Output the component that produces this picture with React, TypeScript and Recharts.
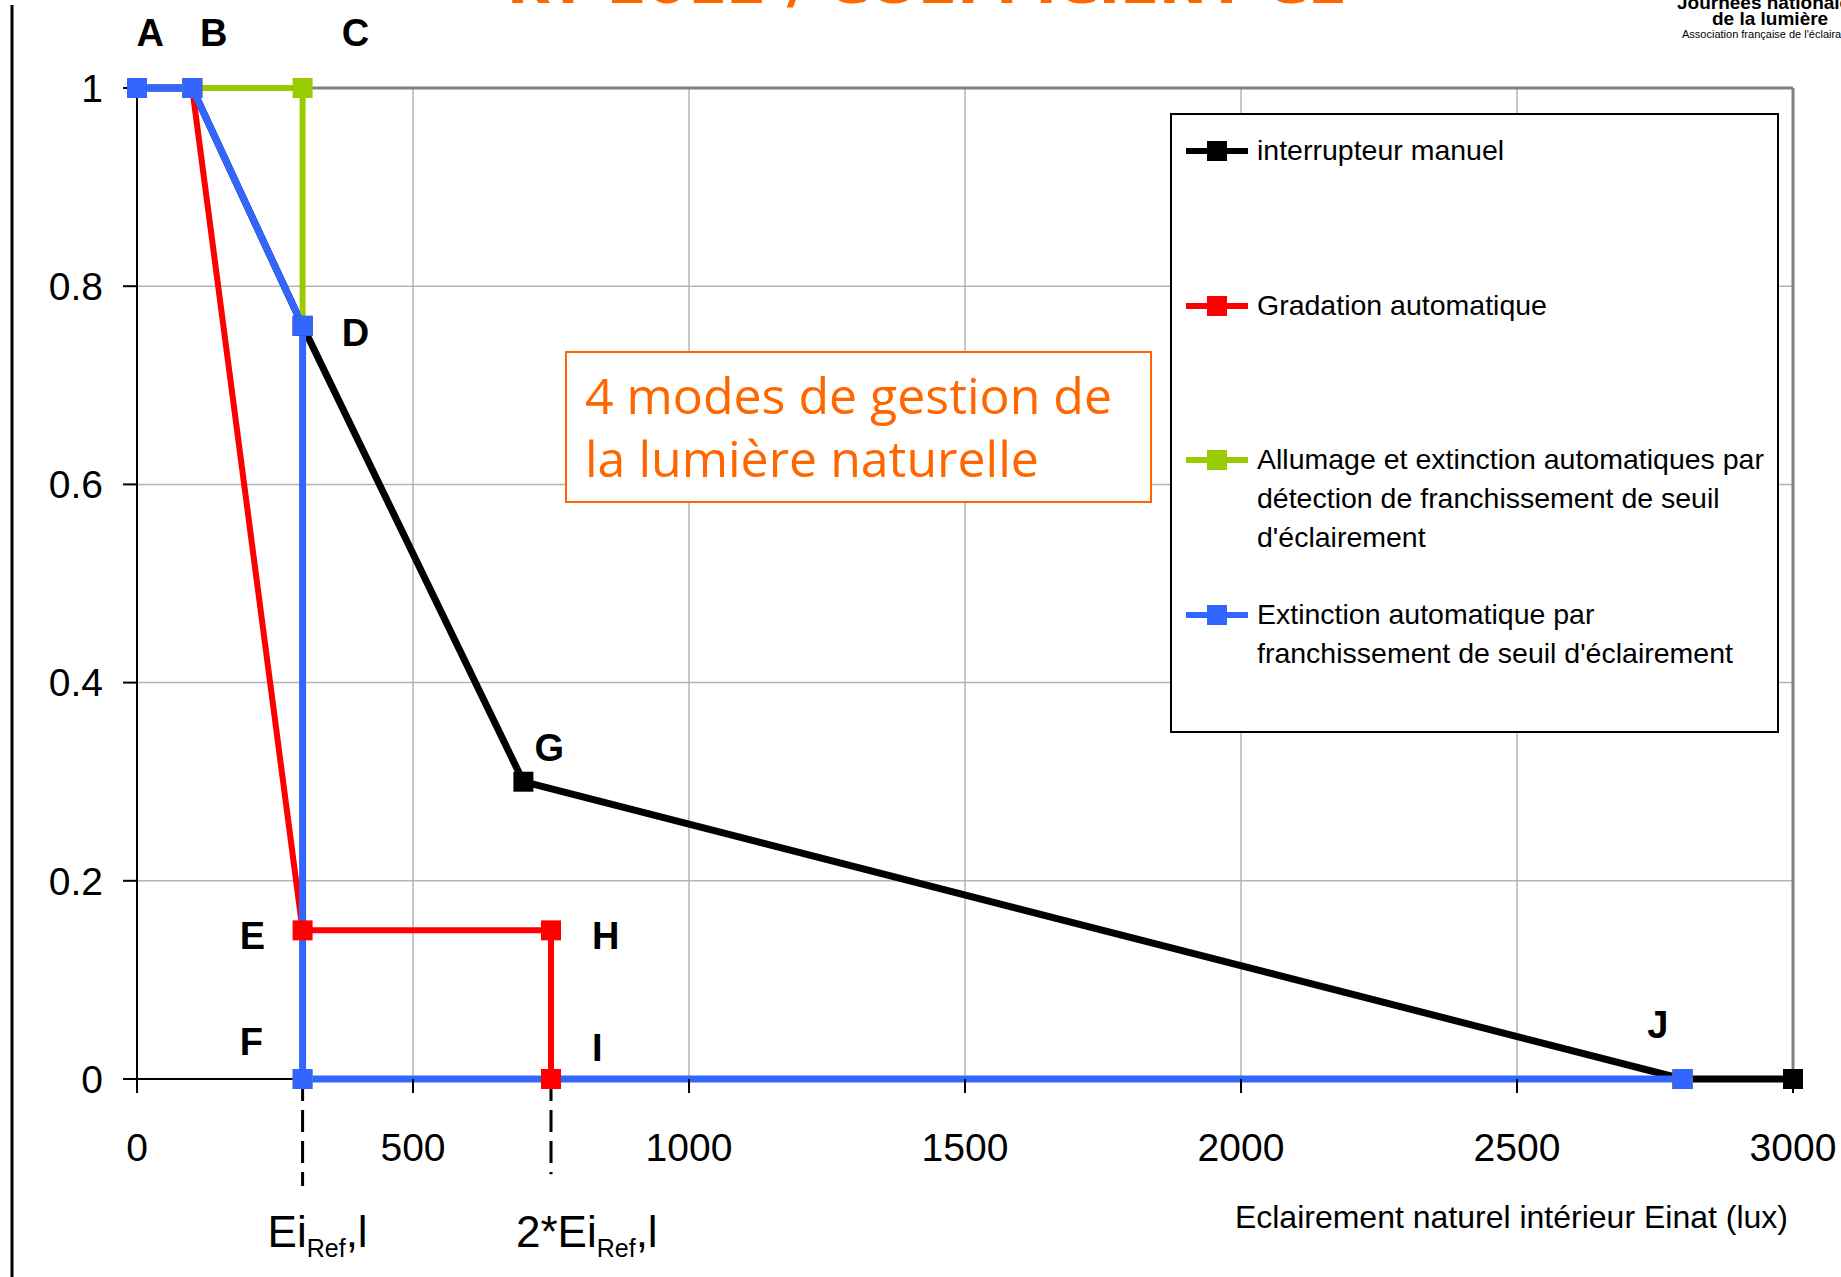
import React from "react";
import {
  LineChart,
  Line,
  XAxis,
  YAxis,
  CartesianGrid,
  ReferenceLine,
  ReferenceDot,
  Legend,
} from "recharts";

// axes
const X_TICKS = [0, 500, 1000, 1500, 2000, 2500, 3000];
const Y_TICKS = [0, 0.2, 0.4, 0.6, 0.8, 1];

// series (Einat in lux, coefficient)
const MANUEL_X = [0, 100, 300, 700, 2800, 3000];
const MANUEL_Y = [1, 1, 0.76, 0.3, 0, 0];
const GRADATION_X = [0, 100, 300, 750, 750, 2800];
const GRADATION_Y = [1, 1, 0.15, 0.15, 0, 0];
const ALLUMAGE_X = [0, 100, 300, 300, 2800];
const ALLUMAGE_Y = [1, 1, 1, 0, 0];
const EXTINCTION_X = [0, 100, 300, 300, 2800];
const EXTINCTION_Y = [1, 1, 0.76, 0, 0];

// point letters, placed in data units
const POINT_NAMES = ["A", "B", "C", "D", "E", "F", "G", "H", "I", "J"];
const POINT_X = [24, 139, 396, 396, 209, 207, 747, 849, 834, 2755];
const POINT_Y = [1.057, 1.057, 1.057, 0.754, 0.145, 0.038, 0.335, 0.145, 0.032, 0.056];

// thresholds under the x axis
const THRESHOLD_X = [300, 750];
const THRESHOLD_END = [-0.108, -0.096];
const THRESHOLD_MAIN = ["Ei", "2*Ei"];
const THRESHOLD_SUB = ["Ref", "Ref"];
const THRESHOLD_TAIL = [",l", ",l"];
const THRESHOLD_LABEL_Y = -0.17;

const FONT = "'Liberation Sans', Arial, sans-serif";

const toPoints = (xs: number[], ys: number[]) => xs.map((x, i) => ({ x, y: ys[i] }));

const SERIES = [
  { key: "manuel", color: "#000000", width: 7, points: toPoints(MANUEL_X, MANUEL_Y), lines: ["interrupteur manuel"] },
  { key: "gradation", color: "#ff0000", width: 6, points: toPoints(GRADATION_X, GRADATION_Y), lines: ["Gradation automatique"] },
  {
    key: "allumage",
    color: "#99cc00",
    width: 6,
    points: toPoints(ALLUMAGE_X, ALLUMAGE_Y),
    lines: ["Allumage et extinction automatiques par", "détection de franchissement de seuil", "d'éclairement"],
  },
  {
    key: "extinction",
    color: "#3366ff",
    width: 7,
    points: toPoints(EXTINCTION_X, EXTINCTION_Y),
    lines: ["Extinction automatique par", "franchissement de seuil d'éclairement"],
  },
];

const squareDot = (color: string, key: string) => (props: any) => {
  const { cx, cy, index } = props;
  if (cx == null || cy == null) return <g key={`${key}-${index}`} />;
  return <rect key={`${key}-${index}`} x={cx - 10} y={cy - 10} width={20} height={20} fill={color} />;
};

const renderLegend = () => (
  <div
    style={{
      width: 609,
      height: 620,
      border: "2px solid #000",
      boxSizing: "border-box",
      background: "#fff",
      position: "relative",
      fontFamily: FONT,
      fontSize: 28.5,
      color: "#000",
    }}
  >
    {SERIES.map((s, i) => {
      const top = 16 + i * 154.5;
      return (
        <div key={s.key}>
          <svg style={{ position: "absolute", left: 14, top: top + 9 }} width={64} height={22}>
            <line x1={0} y1={11} x2={62} y2={11} stroke={s.color} strokeWidth={6} />
            <rect x={21} y={1} width={20} height={20} fill={s.color} />
          </svg>
          <div style={{ position: "absolute", left: 85, top, lineHeight: "39px", whiteSpace: "nowrap" }}>
            {s.lines.map((l) => (
              <div key={l}>{l}</div>
            ))}
          </div>
        </div>
      );
    })}
  </div>
);

export default function App() {
  return (
    <div
      style={{
        position: "absolute",
        left: 0,
        top: 0,
        width: 1841,
        height: 1277,
        background: "#fff",
        overflow: "hidden",
      }}
    >
      <LineChart width={1841} height={1277} margin={{ top: 88, right: 48, left: 0, bottom: 98 }}>
        <CartesianGrid stroke="#b3b3b3" strokeWidth={1.5} />
        <XAxis
          dataKey="x"
          type="number"
          domain={[0, 3000]}
          ticks={X_TICKS}
          interval={0}
          height={100}
          tickSize={14}
          tickMargin={40}
          axisLine={false}
          tickLine={{ stroke: "#000", strokeWidth: 2 }}
          tick={{ fill: "#000", fontSize: 39, fontFamily: FONT }}
        />
        <YAxis
          dataKey="y"
          type="number"
          domain={[0, 1]}
          ticks={Y_TICKS}
          interval={0}
          width={137}
          tickSize={14}
          tickMargin={20}
          axisLine={false}
          tickLine={{ stroke: "#000", strokeWidth: 2 }}
          tick={{ fill: "#000", fontSize: 39, fontFamily: FONT }}
        />
        <ReferenceLine y={1} stroke="#808080" strokeWidth={3} />
        <ReferenceLine x={3000} stroke="#808080" strokeWidth={3} />
        <ReferenceLine y={0} stroke="#000" strokeWidth={2} />
        <ReferenceLine x={0} stroke="#000" strokeWidth={2} />
        {THRESHOLD_X.map((x, i) => (
          <ReferenceLine
            key={`th-${x}`}
            segment={[
              { x, y: 0 },
              { x, y: THRESHOLD_END[i] },
            ]}
            ifOverflow="visible"
            stroke="#000"
            strokeWidth={3}
            strokeDasharray="22 9"
          />
        ))}
        {THRESHOLD_X.map((x, i) => (
          <ReferenceDot
            key={`thl-${x}`}
            x={x}
            y={THRESHOLD_LABEL_Y}
            r={0}
            ifOverflow="visible"
            shape={(p: any) => (
              <text x={p.cx - 35} y={p.cy} fontFamily={FONT} fontSize={44} fill="#000">
                {THRESHOLD_MAIN[i]}
                <tspan fontSize={25} dy={10}>
                  {THRESHOLD_SUB[i]}
                </tspan>
                <tspan dy={-10}>{THRESHOLD_TAIL[i]}</tspan>
              </text>
            )}
          />
        ))}
        {SERIES.map((s) => (
          <Line
            key={`line-${s.key}`}
            data={s.points}
            dataKey="y"
            type="linear"
            stroke={s.color}
            strokeWidth={s.width}
            strokeLinejoin="round"
            dot={false}
            activeDot={false}
            legendType="none"
            isAnimationActive={false}
          />
        ))}
        {SERIES.map((s) => (
          <Line
            key={`dots-${s.key}`}
            data={s.points}
            dataKey="y"
            type="linear"
            stroke="none"
            dot={squareDot(s.color, s.key)}
            activeDot={false}
            legendType="none"
            isAnimationActive={false}
          />
        ))}
        {POINT_NAMES.map((name, i) => (
          <ReferenceDot
            key={`pt-${name}`}
            x={POINT_X[i]}
            y={POINT_Y[i]}
            r={0}
            ifOverflow="visible"
            shape={(p: any) => (
              <text
                x={p.cx}
                y={p.cy + 14}
                textAnchor="middle"
                fontFamily={FONT}
                fontWeight="bold"
                fontSize={38}
                fill="#000"
              >
                {name}
              </text>
            )}
          />
        ))}
        <Legend
          layout="vertical"
          align="center"
          verticalAlign="middle"
          content={renderLegend}
          wrapperStyle={{ position: "absolute", left: 1170, top: 113, width: 609, height: 620 }}
        />
      </LineChart>

      <svg
        width={1841}
        height={1277}
        style={{ position: "absolute", left: 0, top: 0, pointerEvents: "none" }}
      >
        <line x1={12} y1={5} x2={12} y2={1277} stroke="#000" strokeWidth={3} />
        <text
          x={507}
          y={3}
          fontFamily="'DejaVu Sans', Verdana, sans-serif"
          fontWeight="bold"
          fontSize={48}
          fill="#ff6600"
          textLength={840}
          lengthAdjust="spacingAndGlyphs"
        >
          RT 2012 / COEFFICIENT CE
        </text>
        <text x={1677} y={9} fontFamily={FONT} fontWeight="bold" fontSize={19} fill="#000">
          Journées nationales
        </text>
        <text x={1712} y={25} fontFamily={FONT} fontWeight="bold" fontSize={19} fill="#000">
          de la lumière
        </text>
        <text x={1682} y={38} fontFamily={FONT} fontSize={11} fill="#000">
          Association française de l'éclairage
        </text>
        <rect x={566} y={352} width={585} height={150} fill="#fff" stroke="#ff6600" strokeWidth={2} />
        <text x={585} y={414} fontFamily="'Open Sans', sans-serif" fontSize={50} fill="#ff6600">
          4 modes de gestion de
        </text>
        <text x={585} y={477} fontFamily="'Open Sans', sans-serif" fontSize={50} fill="#ff6600">
          la lumière naturelle
        </text>
        <text x={1788} y={1228} textAnchor="end" fontFamily={FONT} fontSize={32} fill="#000">
          Eclairement naturel intérieur Einat (lux)
        </text>
      </svg>
    </div>
  );
}
